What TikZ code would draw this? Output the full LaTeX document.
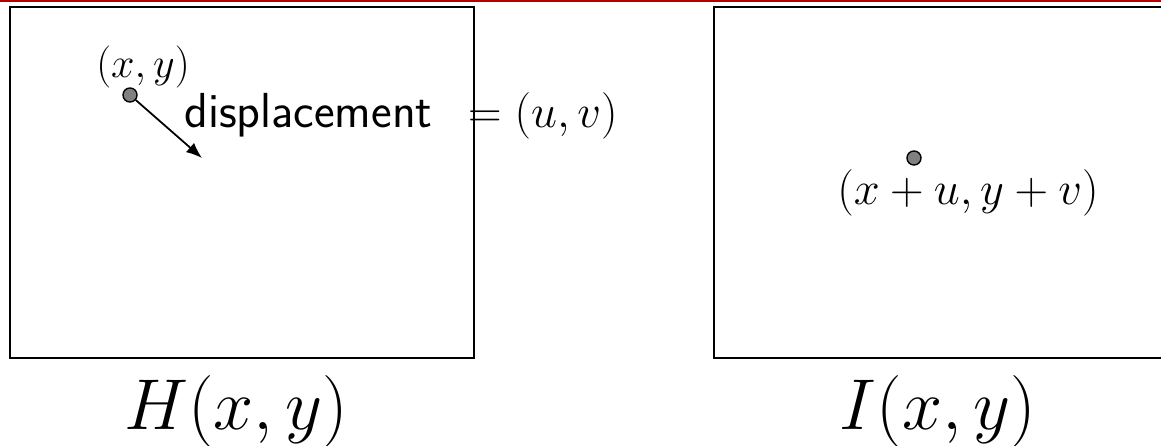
\documentclass[tikz,border=0pt]{standalone}
\usepackage{fix-cm}
\usetikzlibrary{arrows.meta}
\tikzset{
  frame/.style={draw=black, line width=1.2pt},
  pt/.style={circle, draw=black, fill=black!50, line width=0.8pt, minimum size=8pt, inner sep=0pt},
  lbl/.style={inner sep=0pt, font=\fontsize{24}{28}\selectfont},
  dlbl/.style={inner sep=0pt, font=\fontsize{28}{32}\selectfont},
  mlbl/.style={inner sep=0pt, font=\fontsize{26.5}{30}\selectfont},
  qlbl/.style={inner sep=0pt, font=\fontsize{26.5}{31}\selectfont},
  big/.style={inner sep=0pt, font=\fontsize{41}{46}\selectfont},
  arr/.style={line width=1pt, -{Latex[length=9pt,width=7pt]}}
}
\begin{document}
\begin{tikzpicture}[x=0.02cm,y=-0.02cm]
\useasboundingbox (0,0) rectangle (1161,446);
\clip (0,0) rectangle (1161,446);
\draw[line width=1.4pt, red!70!black] (0,0.8) -- (1161,0.8);
\draw[frame] (10,7) rectangle (474,358);
\draw[frame] (714,7) rectangle (1175,358);
\node[pt] (p) at (130,95) {};
\node[lbl] (pl) at (143,67) {$(x,y)$};
\coordinate (pe) at (202,158);
\draw[arr] (p) -- (pe);
\node[dlbl, anchor=base west] (disp) at (184,128) {\textsf{displacement}};
\node[mlbl, anchor=base east] (uv) at (618,128) {$=(u,v)$};
\node[pt] (q) at (914,158) {};
\node[qlbl] (ql) at (968,193) {$(x+u,y+v)$};
\node[big] (H) at (236,411) {$H(x,y)$};
\node[big] (I) at (938,411) {$I(x,y)$};
\end{tikzpicture}
\end{document}
